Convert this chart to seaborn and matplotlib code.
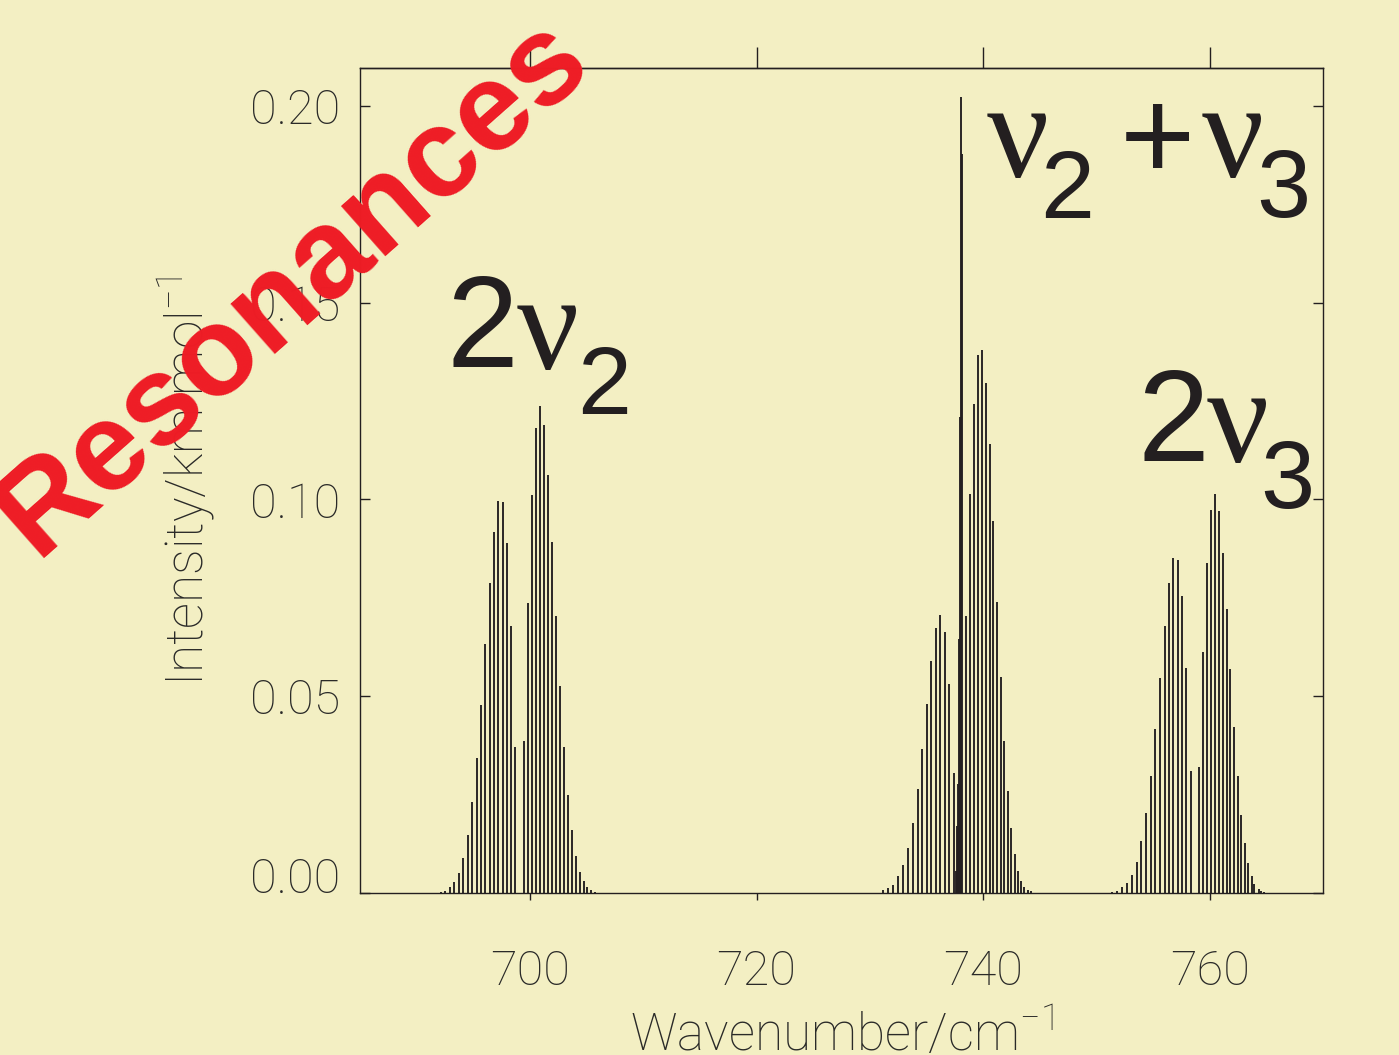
import matplotlib
matplotlib.use('Agg')
import matplotlib.pyplot as plt
import seaborn as sns
import pandas as pd
from matplotlib.ticker import FormatStrFormatter

# stick spectrum, wavenumber (cm-1) and intensity (km/mol)
# 2nu2 band (P and R branch)
b1_wn = [692.12, 692.53, 692.91, 693.32, 693.71, 694.12, 694.50, 694.85, 695.30,
         695.65, 696.00, 696.44, 696.80, 697.15, 697.59, 697.94, 698.30, 698.65,
         699.44, 699.80, 700.15, 700.50, 700.86, 701.21, 701.56, 701.92, 702.27,
         702.62, 702.97, 703.33, 703.68, 704.03, 704.39, 704.74, 705.00, 705.36, 705.71]
b1_int = [0.0003, 0.0006, 0.0014, 0.0029, 0.0052, 0.0090, 0.0148, 0.0230, 0.0342,
          0.0477, 0.0632, 0.0787, 0.0917, 0.0996, 0.0993, 0.0889, 0.0678, 0.0370,
          0.0385, 0.0736, 0.1011, 0.1181, 0.1237, 0.1189, 0.1062, 0.0891, 0.0703,
          0.0525, 0.0370, 0.0248, 0.0159, 0.0095, 0.0054, 0.0031, 0.0016, 0.0008, 0.0003]

# nu2+nu3 band (P, Q, R branch)
b2_wn = [730.78, 731.19, 731.63, 732.07, 732.51, 732.95, 733.40, 733.84, 734.28,
         734.63, 735.07, 735.42, 735.87, 736.22, 736.66, 737.01, 737.46,
         737.57, 737.69, 737.78, 737.87, 737.98, 738.08, 738.16,
         738.51, 738.87, 739.22, 739.57, 739.93, 740.28, 740.63, 740.90, 741.25,
         741.60, 741.87, 742.22, 742.48, 742.84, 743.10, 743.37, 743.63, 743.99, 744.25]
b2_int = [0.0001, 0.0007, 0.0012, 0.0021, 0.0042, 0.0070, 0.0115, 0.0179, 0.0263,
          0.0367, 0.0479, 0.0589, 0.0673, 0.0706, 0.0662, 0.0530, 0.0304,
          0.0055, 0.0170, 0.0278, 0.0645, 0.1209, 0.2022, 0.1878,
          0.0703, 0.1014, 0.1243, 0.1366, 0.1379, 0.1295, 0.1141, 0.0945, 0.0739,
          0.0548, 0.0385, 0.0258, 0.0164, 0.0100, 0.0057, 0.0031, 0.0016, 0.0008, 0.0004]

# 2nu3 band (P and R branch)
b3_wn = [751.34, 751.78, 752.22, 752.66, 753.11, 753.55, 753.90, 754.34, 754.78,
         755.14, 755.58, 756.02, 756.37, 756.72, 757.17, 757.52, 757.87, 758.31,
         759.02, 759.37, 759.73, 760.08, 760.43, 760.78, 761.14, 761.49, 761.75,
         762.11, 762.46, 762.72, 763.08, 763.34, 763.69, 763.95, 764.31, 764.57, 764.83]
b3_int = [0.0003, 0.0006, 0.0014, 0.0026, 0.0047, 0.0080, 0.0131, 0.0202, 0.0296,
          0.0416, 0.0545, 0.0678, 0.0787, 0.0851, 0.0846, 0.0754, 0.0571, 0.0311,
          0.0321, 0.0612, 0.0838, 0.0973, 0.1014, 0.0970, 0.0863, 0.0721, 0.0568,
          0.0421, 0.0296, 0.0197, 0.0126, 0.0075, 0.0044, 0.0024, 0.0011, 0.0006, 0.0003]

x_ticks = [700, 720, 740, 760]
y_ticks = [0.00, 0.05, 0.10, 0.15, 0.20]

bg = '#F3EFC3'
ink = '#231F20'
grey = '#2A2A28'

sns.set_theme(style='ticks', rc={'axes.facecolor': bg, 'figure.facecolor': bg,
                                 'axes.edgecolor': ink, 'axes.linewidth': 1.0})
plt.rcParams['font.family'] = ['Roboto', 'DejaVu Sans']
plt.rcParams['font.weight'] = 'light'
plt.rcParams['axes.labelweight'] = 'light'
plt.rcParams['mathtext.fontset'] = 'custom'
plt.rcParams['mathtext.rm'] = 'Roboto:light'
plt.rcParams['mathtext.default'] = 'regular'

data = pd.concat([
    pd.DataFrame({'wn': b1_wn, 'inten': b1_int, 'band': '2v2'}),
    pd.DataFrame({'wn': b2_wn, 'inten': b2_int, 'band': 'v2+v3'}),
    pd.DataFrame({'wn': b3_wn, 'inten': b3_int, 'band': '2v3'}),
])

fig = plt.figure(figsize=(13.99, 10.55), dpi=100)
ax = fig.add_axes([360 / 1399, 1 - 893 / 1055, 963 / 1399, 825 / 1055])

for band, d in data.groupby('band', sort=False):
    ax.vlines(d['wn'], 0, d['inten'], color=ink, linewidth=1.35)

ax.set_xlim(685, 770)
ax.set_ylim(0, 0.2096)
ax.set_xticks(x_ticks)
ax.set_yticks(y_ticks)
ax.yaxis.set_major_formatter(FormatStrFormatter('%.2f'))
for s in ax.spines.values():
    s.set_visible(True)

fs = 35
ax.tick_params(axis='x', direction='out', length=5, width=1, color=ink,
               bottom=True, top=False, pad=35, labelsize=fs, labelcolor=grey)
ax.tick_params(axis='y', direction='in', length=7.5, width=1, color=ink,
               left=True, right=True, labelright=False, pad=14,
               labelsize=fs, labelcolor=grey)

top = ax.secondary_xaxis('top')
top.set_xticks(x_ticks)
top.tick_params(axis='x', direction='out', length=15, width=1, color=ink,
                labeltop=False, labelbottom=False)

ax.set_xlabel(r'Wavenumber/cm$^{-1}$', fontsize=37, fontweight='light', color=grey, labelpad=10)
ax.set_ylabel(r'Intensity/km mol$^{-1}$', fontsize=37, fontweight='light', color=grey, labelpad=24)

# zero label sits on the bottom spine
ax.yaxis.get_major_ticks()[0].label1.set_verticalalignment('baseline')


def glyph(txt, px, py, size, serif=False):
    fam = 'Liberation Serif' if serif else 'Liberation Sans'
    fig.text(px / 1399, 1 - py / 1055, txt, family=fam, fontsize=size,
             fontweight='normal', color=ink, ha='left', va='baseline', zorder=5)


# band labels
glyph('2', 447, 367, 93)
glyph('ν', 517, 369, 99, serif=True)
glyph('2', 577, 414, 70)

glyph('ν', 987, 177, 99, serif=True)
glyph('2', 1040, 218, 70)
glyph('+', 1120, 179, 93)
glyph('ν', 1202, 177, 99, serif=True)
glyph('3', 1256, 217, 70)

glyph('2', 1137, 461, 93)
glyph('ν', 1207, 462, 99, serif=True)
glyph('3', 1260, 508, 70)

fig.text(315 / 1399, 1 - 312 / 1055, 'Resonances', family='Liberation Sans',
         fontweight='bold', fontsize=91, color='#EE1C25', rotation=41.5,
         rotation_mode='anchor', ha='center', va='baseline', zorder=10)

fig.savefig('out.png', dpi=100, facecolor=bg)
